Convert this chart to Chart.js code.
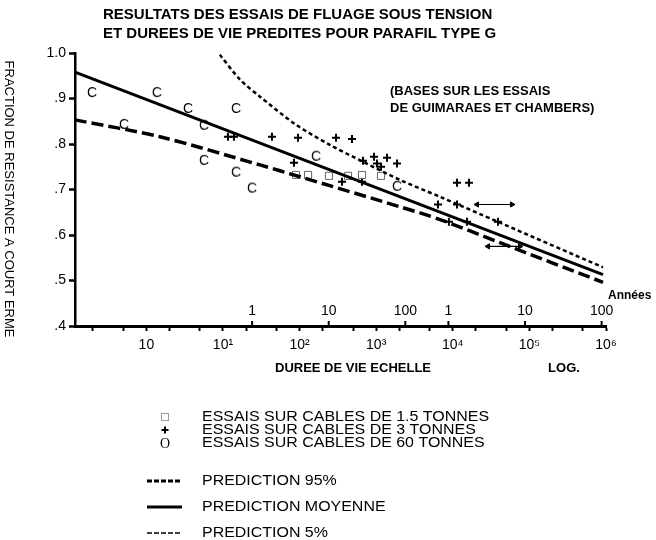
<!DOCTYPE html>
<html>
<head>
<meta charset="utf-8">
<script src="https://cdn.jsdelivr.net/npm/chart.js@4.4.1/dist/chart.umd.min.js"></script>
<style>
html, body { margin: 0; padding: 0; background: #fff; }
#wrap { width: 656px; height: 540px; position: relative; }
</style>
</head>
<body>
<div id="wrap"><canvas id="chart"></canvas></div>
<script>
// durée en heures (échelle log) / fraction de résistance à court terme
const cable15Hours = [89.8, 129, 242, 429, 653, 1156];
const cable15Frac = [0.732, 0.732, 0.730, 0.730, 0.732, 0.730];

const cable3Hours = [11.6, 13.9, 43.6, 95.3, 299, 483, 84.6, 936, 1384, 1023, 1156, 1870, 673, 358, 653, 11350, 16260, 6412, 11350, 8900, 15320, 38900];
const cable3Frac = [0.816, 0.816, 0.816, 0.814, 0.814, 0.811, 0.759, 0.772, 0.770, 0.757, 0.750, 0.757, 0.763, 0.717, 0.717, 0.715, 0.715, 0.667, 0.667, 0.629, 0.629, 0.629];

const cable60Hours = [0.195, 0.51, 1.37, 3.49, 5.65, 14.8, 5.65, 14.8, 23.9, 164, 1870];
const cable60Frac = [0.912, 0.842, 0.912, 0.877, 0.840, 0.877, 0.763, 0.737, 0.702, 0.772, 0.706];

// essais non rompus (fleches)
const runoutFrom = [20700, 28800];
const runoutTo = [59300, 75400];
const runoutFrac = [0.667, 0.575];

const meanHours = [0.117, 914000];
const meanFrac = [0.958, 0.513];
const p95Hours = [0.117, 1.5, 30.4, 101, 2047, 6810, 41300, 914000];
const p95Frac = [0.853, 0.816, 0.754, 0.728, 0.662, 0.634, 0.583, 0.496];
const p5Hours = [9.1, 16.8, 30.4, 87, 249, 673, 2047, 6810, 41300, 914000];
const p5Frac = [0.996, 0.941, 0.904, 0.844, 0.798, 0.761, 0.721, 0.684, 0.627, 0.529];

const xTickHours = [0.2, 0.5, 1, 2, 5, 10, 20, 50, 100, 200, 500, 1e3, 2e3, 5e3, 1e4, 2e4, 5e4, 1e5, 2e5, 5e5, 1e6];
const decadeHours = [1, 10, 100, 1e3, 1e4, 1e5, 1e6];
const decadeLabels = ['10', '10¹', '10²', '10³', '10⁴', '10⁵', '10⁶'];
const dayYearHours = [24, 240, 2400, 8766, 87660, 876600];
const dayYearLabels = ['1', '10', '100', '1', '10', '100'];
const yTicks = [0.4, 0.5, 0.6, 0.7, 0.8, 0.9, 1.0];

const titleLines = ['RESULTATS DES ESSAIS DE FLUAGE SOUS TENSION', 'ET DUREES DE VIE PREDITES POUR PARAFIL TYPE G'];
const noteLines = ['(BASES SUR LES ESSAIS', 'DE GUIMARAES ET CHAMBERS)'];
const xTitle = ['DUREE DE VIE ECHELLE', 'LOG.'];
const yTitle = 'FRACTION DE RESISTANCE A COURT ERME';

const FONT = '"Liberation Sans", Arial, sans-serif';
const pts = (xs, ys) => xs.map((x, i) => ({ x: x, y: ys[i] }));

// marqueur "C" pour les cables de 60 tonnes
const cMark = document.createElement('canvas');
cMark.width = 14; cMark.height = 16;
const cc = cMark.getContext('2d');
cc.font = '14px ' + FONT;
cc.textAlign = 'center';
cc.textBaseline = 'middle';
cc.fillStyle = '#000';
cc.fillText('C', 7, 8.5);

const arrowSets = runoutFrom.map((h, i) => ({
    label: '',
    data: pts([h, runoutTo[i]], [runoutFrac[i], runoutFrac[i]]),
    showLine: true,
    borderColor: '#000',
    backgroundColor: '#000',
    borderWidth: 1.2,
    pointStyle: 'triangle',
    pointRotation: [-90, 90],
    pointRadius: 3,
    pointBorderWidth: 1
}));

const decor = {
    id: 'decor',
    afterDraw(chart) {
        const ctx = chart.ctx;
        const xs = chart.scales.x;
        const a = chart.chartArea;
        ctx.save();
        ctx.fillStyle = '#000';
        ctx.strokeStyle = '#000';
        ctx.textBaseline = 'middle';

        ctx.font = 'bold 15px ' + FONT;
        ctx.textAlign = 'left';
        ctx.fillText(titleLines[0], 103, 15);
        ctx.fillText(titleLines[1], 103, 34);

        ctx.font = 'bold 13px ' + FONT;
        ctx.fillText(noteLines[0], 390, 91);
        ctx.fillText(noteLines[1], 390, 108);

        // jours / années au-dessus de l'axe
        ctx.font = '14px ' + FONT;
        ctx.textAlign = 'center';
        ctx.lineWidth = 2;
        dayYearHours.forEach((h, i) => {
            const px = xs.getPixelForValue(h);
            ctx.beginPath();
            ctx.moveTo(px, a.bottom);
            ctx.lineTo(px, a.bottom - 5);
            ctx.stroke();
            ctx.fillText(dayYearLabels[i], px, a.bottom - 15);
        });
        ctx.font = 'bold 12px ' + FONT;
        ctx.textAlign = 'left';
        ctx.fillText('Années', 608, 296);

        ctx.font = 'bold 13px ' + FONT;
        ctx.textAlign = 'center';
        ctx.fillText(xTitle[0], 353, 368);
        ctx.fillText(xTitle[1], 564, 368);

        ctx.save();
        ctx.translate(9, 199);
        ctx.rotate(Math.PI / 2);
        ctx.font = '13px ' + FONT;
        ctx.fillText(yTitle, 0, 0);
        ctx.restore();

        // legende
        const rows = [417, 430, 443, 481, 507, 533];
        const mx = 165;
        chart.data.datasets.filter(d => d.legendMark).forEach(d => {
            const y = rows[d.legendRow];
            ctx.save();
            if (d.legendMark === 'square') {
                ctx.strokeStyle = '#999';
                ctx.lineWidth = 1;
                ctx.strokeRect(mx - 3.5, y - 3.5, 7, 7);
            } else if (d.legendMark === 'plus') {
                ctx.lineWidth = 2;
                ctx.beginPath();
                ctx.moveTo(mx - 3.5, y); ctx.lineTo(mx + 3.5, y);
                ctx.moveTo(mx, y - 3.5); ctx.lineTo(mx, y + 3.5);
                ctx.stroke();
            } else if (d.legendMark === 'o') {
                ctx.font = '14px "Liberation Serif", "Times New Roman", serif';
                ctx.textAlign = 'center';
                ctx.fillText('O', mx, y + 1);
            } else {
                ctx.lineWidth = d.legendMark === 'thin' ? 1.5 : 3;
                ctx.setLineDash(d.legendMark === 'solid' ? [] : [5, 2]);
                ctx.beginPath();
                ctx.moveTo(mx - 18, y); ctx.lineTo(mx + 17, y);
                ctx.stroke();
            }
            ctx.restore();
            ctx.save();
            ctx.translate(202, y);
            ctx.scale(1.14, 1);
            ctx.font = '14px ' + FONT;
            ctx.textAlign = 'left';
            ctx.fillText(d.label, 0, 0);
            ctx.restore();
        });
        ctx.restore();
    }
};

new Chart(document.getElementById('chart'), {
    type: 'scatter',
    data: {
        datasets: [
            {
                label: 'PREDICTION 5%',
                data: pts(p5Hours, p5Frac),
                showLine: true,
                borderColor: '#000',
                borderWidth: 2.5,
                borderDash: [4, 3],
                pointRadius: 0,
                tension: 0.3,
                legendMark: 'thin', legendRow: 5
            },
            {
                label: 'PREDICTION 95%',
                data: pts(p95Hours, p95Frac),
                showLine: true,
                borderColor: '#000',
                borderWidth: 3.5,
                borderDash: [12, 5],
                pointRadius: 0,
                tension: 0.3,
                legendMark: 'thick', legendRow: 3
            },
            {
                label: 'PREDICTION MOYENNE',
                data: pts(meanHours, meanFrac),
                showLine: true,
                borderColor: '#000',
                borderWidth: 3,
                pointRadius: 0,
                legendMark: 'solid', legendRow: 4
            },
            {
                label: 'ESSAIS SUR CABLES DE 1.5 TONNES',
                data: pts(cable15Hours, cable15Frac),
                pointStyle: 'rect',
                pointRadius: 5,
                borderColor: '#666',
                backgroundColor: '#fff',
                borderWidth: 1,
                legendMark: 'square', legendRow: 0
            },
            {
                label: 'ESSAIS SUR CABLES DE 3 TONNES',
                data: pts(cable3Hours, cable3Frac),
                pointStyle: 'cross',
                pointRadius: 4,
                borderColor: '#000',
                borderWidth: 2,
                legendMark: 'plus', legendRow: 1
            },
            {
                label: 'ESSAIS SUR CABLES DE 60 TONNES',
                data: pts(cable60Hours, cable60Frac),
                pointStyle: cMark,
                legendMark: 'o', legendRow: 2
            },
            ...arrowSets
        ]
    },
    options: {
        responsive: true,
        maintainAspectRatio: false,
        animation: false,
        clip: false,
        layout: { padding: { top: 53, left: 0, right: 50, bottom: 154 } },
        plugins: {
            legend: { display: false },
            tooltip: { enabled: false }
        },
        scales: {
            x: {
                type: 'logarithmic',
                min: 0.117,
                max: 1e6,
                afterBuildTicks: s => { s.ticks = xTickHours.map(v => ({ value: v })); },
                afterFit: s => { s.height = 60; },
                grid: { drawOnChartArea: false, tickLength: 5, tickWidth: 2, color: '#000' },
                border: { color: '#000', width: 3 },
                ticks: {
                    autoSkip: false,
                    maxRotation: 0,
                    padding: 6,
                    color: '#000',
                    font: { family: FONT, size: 14 },
                    major: { enabled: false },
                    callback: v => {
                        const i = decadeHours.findIndex(d => Math.abs(d - v) < d * 1e-6);
                        return i >= 0 ? decadeLabels[i] : '';
                    }
                }
            },
            y: {
                min: 0.4,
                max: 1.0,
                afterBuildTicks: s => { s.ticks = yTicks.map(v => ({ value: v })); },
                afterFit: s => { s.width = 75; },
                grid: { drawOnChartArea: false, tickLength: 6, tickWidth: 2.5, color: '#000' },
                border: { color: '#000', width: 2.5 },
                ticks: {
                    padding: 3,
                    color: '#000',
                    font: { family: FONT, size: 14 },
                    callback: v => v > 0.99 ? '1.0' : '.' + Math.round(v * 10)
                }
            }
        }
    },
    plugins: [decor]
});
</script>
</body>
</html>
